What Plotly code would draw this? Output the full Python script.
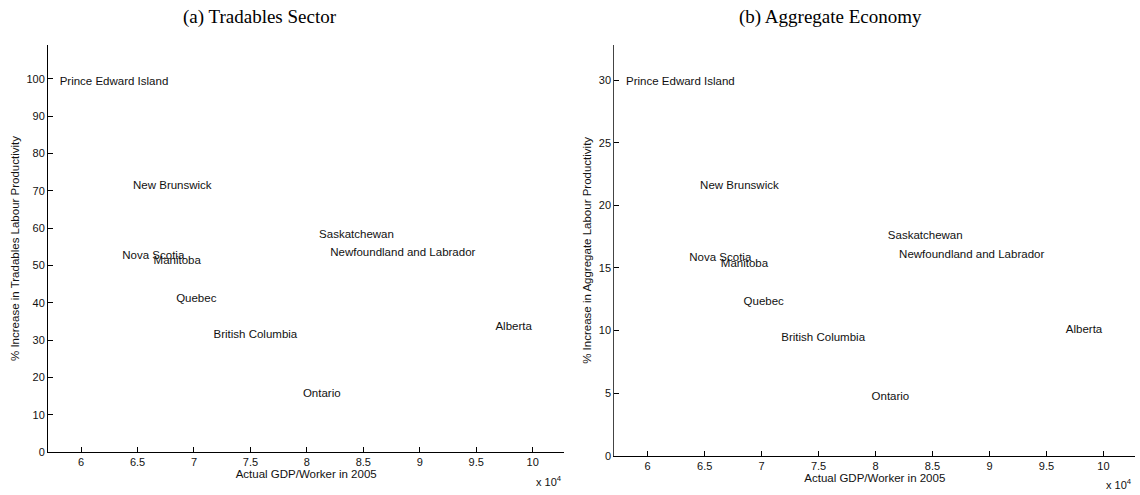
import plotly.graph_objects as go

provinces = ["Prince Edward Island", "New Brunswick", "Nova Scotia", "Manitoba", "Quebec",
             "British Columbia", "Saskatchewan", "Newfoundland and Labrador", "Alberta", "Ontario"]
gdp_per_worker_2005 = [58100, 64600, 63650, 66420, 68420, 71730, 81080, 82070, 96700, 79650]
tradables_increase = [99.2, 71.3, 52.5, 51.1, 41.0, 31.4, 58.2, 53.4, 33.5, 15.5]
aggregate_increase = [29.8, 21.5, 15.8, 15.3, 12.3, 9.4, 17.5, 16.0, 10.0, 4.7]

x_tickvals = [60000, 65000, 70000, 75000, 80000, 85000, 90000, 95000, 100000]
x_ticktext = ["6", "6.5", "7", "7.5", "8", "8.5", "9", "9.5", "10"]
y1_ticks = [0, 10, 20, 30, 40, 50, 60, 70, 80, 90, 100]
y2_ticks = [0, 5, 10, 15, 20, 25, 30]

W, H = 1140, 495
FONT = "Liberation Sans, Arial, Helvetica, sans-serif"

fig = go.Figure()
fig.add_trace(go.Scatter(x=gdp_per_worker_2005, y=tradables_increase, text=provinces,
                         mode="text", textposition="middle right",
                         textfont=dict(family=FONT, size=11.5, color="#111"),
                         xaxis="x", yaxis="y", showlegend=False, hoverinfo="skip"))
fig.add_trace(go.Scatter(x=gdp_per_worker_2005, y=aggregate_increase, text=provinces,
                         mode="text", textposition="middle right",
                         textfont=dict(family=FONT, size=11.5, color="#111"),
                         xaxis="x2", yaxis="y2", showlegend=False, hoverinfo="skip"))

def xa(domain, anchor):
    return dict(domain=domain, anchor=anchor, range=[57070, 102800], automargin=False,
                tickvals=x_tickvals, ticktext=x_ticktext,
                ticks="inside", ticklen=5, tickwidth=1, tickcolor="black",
                showline=True, linecolor="black", linewidth=1,
                showgrid=False, zeroline=False,
                tickfont=dict(family=FONT, size=11, color="#111"),
                title=dict(text="Actual GDP/Worker in 2005", standoff=0,
                           font=dict(family=FONT, size=11.5, color="#111")))

def ya(domain, anchor, rng, ticks, title, lc):
    return dict(domain=domain, anchor=anchor, range=rng, tickvals=ticks, automargin=False,
                ticks="inside", ticklen=5, tickwidth=1, tickcolor="black",
                showline=True, linecolor=lc, linewidth=1,
                showgrid=False, zeroline=False,
                tickfont=dict(family=FONT, size=11, color="#111"),
                title=dict(text=title, standoff=4,
                           font=dict(family=FONT, size=11.5, color="#111")))

fig.update_layout(
    width=W, height=H,
    margin=dict(l=0, r=0, t=0, b=0, autoexpand=False),
    paper_bgcolor="white", plot_bgcolor="white",
    xaxis=xa([48 / W, 564.3 / W], "y"),
    yaxis=ya([(H - 452) / H, (H - 45) / H], "x", [0, 109.1], y1_ticks,
             "% Increase in Tradables Labour Productivity", "black"),
    xaxis2=xa([614.3 / W, 1135.3 / W], "y2"),
    yaxis2=ya([(H - 455.7) / H, (H - 45) / H], "x2", [0, 32.8], y2_ticks,
              "% Increase in Aggregate Labour Productivity", "#444"),
    annotations=[
        dict(text="(a) Tradables Sector", x=260 / W, y=1 - 17 / H, xref="paper", yref="paper",
             showarrow=False, xanchor="center", yanchor="middle",
             font=dict(family="Liberation Serif, Times New Roman, serif", size=19, color="black")),
        dict(text="(b) Aggregate Economy", x=830 / W, y=1 - 17 / H, xref="paper", yref="paper",
             showarrow=False, xanchor="center", yanchor="middle",
             font=dict(family="Liberation Serif, Times New Roman, serif", size=19, color="black")),
        dict(text="x 10<sup>4</sup>", x=549 / W, y=1 - 481 / H, xref="paper", yref="paper",
             showarrow=False, xanchor="center", yanchor="middle",
             font=dict(family=FONT, size=11, color="#111")),
        dict(text="x 10<sup>4</sup>", x=1119 / W, y=1 - 484 / H, xref="paper", yref="paper",
             showarrow=False, xanchor="center", yanchor="middle",
             font=dict(family=FONT, size=11, color="#111")),
    ],
)

fig.write_html("out.html")
